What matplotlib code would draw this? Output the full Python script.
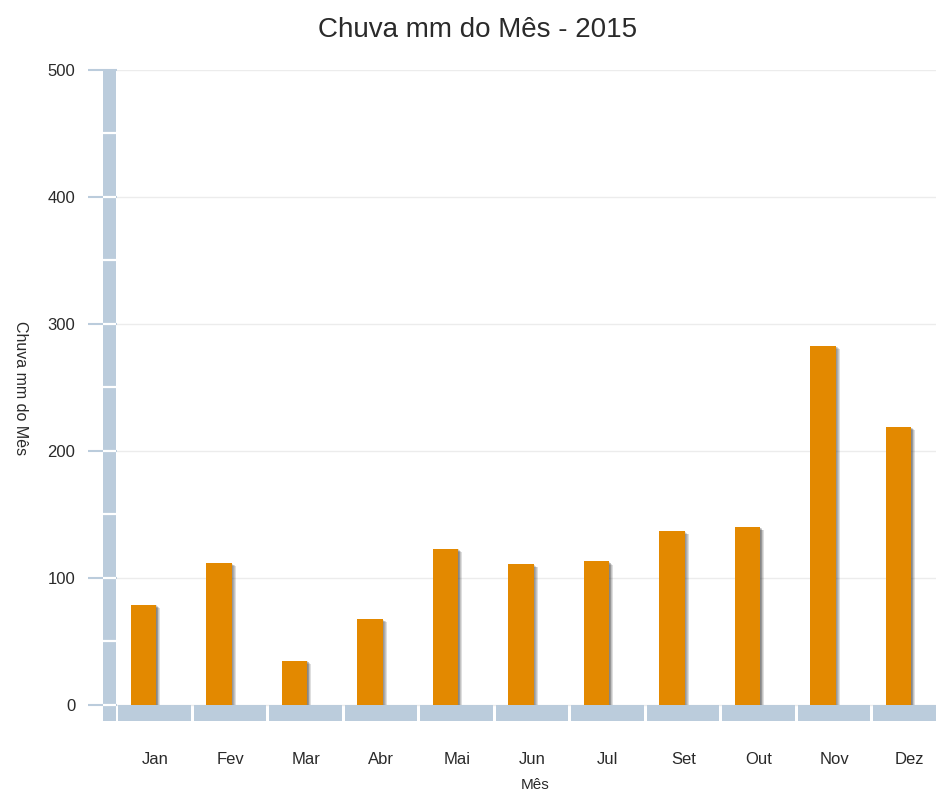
import numpy as np
import matplotlib
matplotlib.use("Agg")
import matplotlib.pyplot as plt

meses = ["Jan", "Fev", "Mar", "Abr", "Mai", "Jun", "Jul", "Set", "Out", "Nov", "Dez"]
chuva = [79, 112, 35, 68, 123, 111, 113, 137, 140, 283, 219]
y_ticks = [0, 100, 200, 300, 400, 500]

cor_barra = "#E38900"
cor_faixa = "#BBCCDC"
cor_texto = "#2a2a2a"

plt.rcParams["font.family"] = ["Liberation Sans", "DejaVu Sans"]

fig = plt.figure(figsize=(9.36, 7.93), dpi=100)
ax = fig.add_axes([117 / 936, 72 / 793, 830.5 / 936, 651 / 793])
x = np.arange(len(meses))
fundo = -12.6

# sombra das barras (deslocada para a direita, esbatida)
for k in range(1, 6):
    ax.bar(x - 0.315 + k * 0.011, np.array(chuva) - k * 0.5, width=0.33, align="edge",
           color="#333333", alpha=0.16, zorder=2.6, linewidth=0)
ax.bar(x - 0.315, chuva, width=0.335, align="edge", color=cor_barra, zorder=3, linewidth=0)

# faixa inferior (eixo x)
ax.bar(x - 0.005, -fundo, bottom=fundo, width=0.962, color=cor_faixa, zorder=3,
       linewidth=0, clip_on=False)

# faixa esquerda (eixo y)
ax.add_patch(plt.Rectangle((-0.685, fundo), 0.172, 500 - fundo, color=cor_faixa,
                           zorder=3, clip_on=False, linewidth=0))
for v in np.arange(0, 500, 50):
    ax.plot([-0.69, -0.51], [v, v], color="white", lw=1.6, zorder=4, clip_on=False,
            solid_capstyle="butt")

ax.set_xlim(-0.5, len(meses) - 0.5)
ax.set_ylim(fundo, 500)
ax.set_xticks(x)
ax.set_xticklabels(meses)
ax.set_yticks(y_ticks)
ax.tick_params(axis="x", length=0, pad=22, labelsize=12, labelcolor=cor_texto)
ax.tick_params(axis="y", length=21, width=1.5, color=cor_faixa, pad=9,
               labelsize=12, labelcolor=cor_texto)
for s in ax.spines.values():
    s.set_visible(False)
ax.grid(axis="y", color="#ececec", lw=1)
ax.set_axisbelow(True)

fig.text(478 / 936, 1 - 30 / 793, "Chuva mm do Mês - 2015", ha="center", va="center",
         fontsize=20, color=cor_texto)
fig.text(20 / 936, 1 - 388 / 793, "Chuva mm do Mês", ha="center", va="center",
         rotation=270, fontsize=11.5, color=cor_texto)
fig.text(535 / 936, 1 - 785 / 793, "Mês", ha="center", va="center",
         fontsize=11, color=cor_texto)

fig.savefig("out.png", dpi=100)
